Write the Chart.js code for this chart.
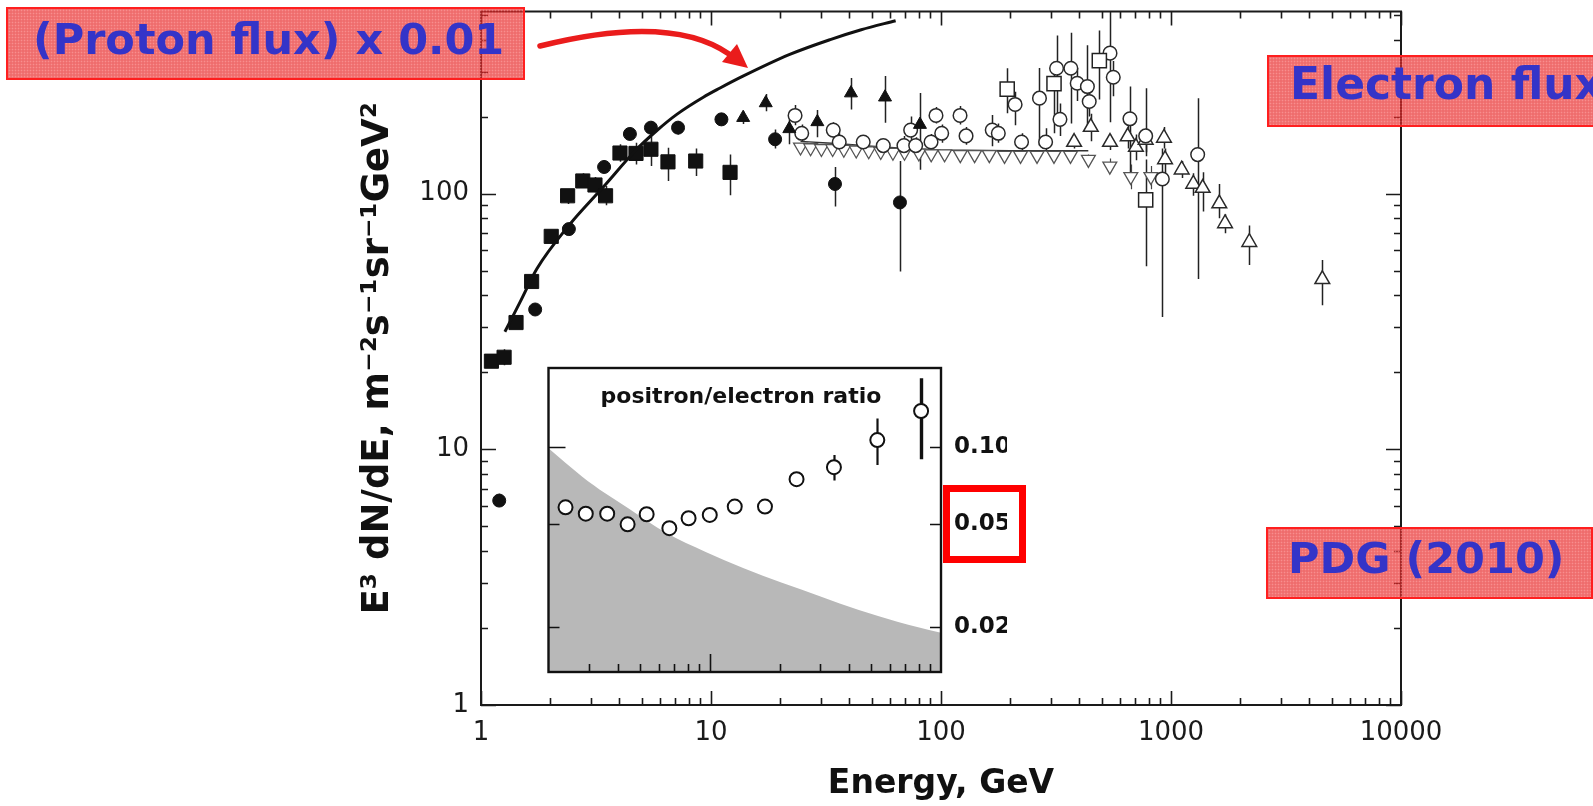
<!DOCTYPE html>
<html>
<head>
<meta charset="utf-8">
<title>Electron flux</title>
<script src="https://cdn.jsdelivr.net/npm/chart.js@4.4.0/dist/chart.umd.min.js"></script>
<style>
  html, body { margin: 0; padding: 0; background: #fff; }
  #wrap { position: relative; width: 1593px; height: 806px; overflow: hidden; }
  #wrap canvas { position: absolute; left: 0; top: 0; }
  #arrow { position: absolute; left: 0; top: 0; pointer-events: none; }
  .tag {
    position: absolute;
    box-sizing: border-box;
    border: 2px solid #ff1f1f;
    background-color: rgba(232, 40, 40, 0.68);
    background-image: radial-gradient(rgba(255, 170, 170, 0.55) 0.7px, transparent 1.1px);
    background-size: 3px 3px;
    color: #3434c8;
    font-family: "DejaVu Sans", sans-serif;
    font-weight: bold;
    font-size: 43px;
    white-space: nowrap;
    overflow: hidden;
  }
  #tagProton { left: 6px; top: 7px; width: 519px; height: 73px; line-height: 61px; padding-left: 25px; }
  #tagElectron { left: 1267px; top: 55px; width: 340px; height: 72px; line-height: 54px; padding-left: 21px; font-size: 44px; }
  #tagPdg { left: 1266px; top: 527px; width: 327px; height: 72px; line-height: 59px; padding-left: 20px; }
  #mark05 { position: absolute; left: 943px; top: 485px; width: 83px; height: 78px; box-sizing: border-box; border: 7px solid #f00; }
</style>
</head>
<body>
<div id="wrap">
  <canvas id="flux" width="1593" height="806"></canvas>
  <canvas id="ratio" width="1593" height="806"></canvas>
  <svg id="arrow" width="1593" height="806">
    <path d="M540 46 C600 31 680 20 729 54" fill="none" stroke="#ea1c1c" stroke-width="5.5" stroke-linecap="round"/>
    <polygon points="748,68 722,62 737,44" fill="#ea1c1c"/>
  </svg>
  <div class="tag" id="tagProton">(Proton flux) x 0.01</div>
  <div class="tag" id="tagElectron">Electron flux</div>
  <div class="tag" id="tagPdg">PDG (2010)</div>
  <div id="mark05"></div>
</div>
<script>
// axes
const xTickValues = [1, 10, 100, 1000, 10000];
const xTickLabels = ['1', '10', '100', '1000', '10000'];
const yTickValues = [1, 10, 100];
const yTickLabels = ['1', '10', '100'];
const ratioTickValues = [0.02, 0.05, 0.1];
const ratioTickLabels = ['0.02', '0.05', '0.10'];

// E^3 dN/dE, filled squares
const sqE  = [1.11, 1.26, 1.42, 1.66, 2.02, 2.38, 2.77, 3.13, 3.48, 4.02, 4.72, 5.48, 6.5, 8.58, 12.1];
const sqV  = [22.1, 22.9, 31.3, 45.3, 68, 98, 112, 108, 98, 144, 143.5, 149, 133, 134, 121];
const sqLo = [21, 21.3, 29.5, 43, 64, 91, 105, 101, 90, 133, 130, 128, 112, 117, 98.5];
const sqHi = [23.3, 24.6, 33.2, 48, 72, 104, 120, 116, 107, 156, 158, 167, 151, 150, 142];

// filled circles
const dotE  = [1.2, 1.72, 2.41, 3.43, 4.44, 5.48, 7.19, 11.1, 19.0, 34.6, 66.3];
const dotV  = [6.3, 35.2, 72.6, 127, 171, 181, 181, 195, 163, 109, 92.3];
const dotLo = [6.0, 33.5, 69, 120, 162, 172, 170, 184, 150, 89, 49.6];
const dotHi = [6.7, 37, 76, 135, 180, 192, 192, 205, 178, 127, 134];

// filled triangles
const triE  = [13.8, 17.3, 21.9, 29.0, 40.6, 57.1, 81];
const triV  = [198, 226, 179, 190.6, 247, 238, 186];
const triLo = [187, 210, 156, 166, 213, 189, 124];
const triHi = [210, 245, 203, 212, 283, 288, 247];

// open circles
const ringE  = [23.2, 24.8, 34.0, 36.1, 45.9, 56.1, 69.0, 73.8, 77.6, 90.5, 95.1, 100.7, 121, 128.5, 167, 177.5,
                210, 224, 268, 285, 318, 329, 367, 391, 433, 441, 543, 561, 663, 776, 917, 1306];
const ringV  = [202, 172, 177, 159, 159, 154, 154, 177, 154, 159, 202, 172, 202, 168, 177, 172,
                223, 159, 236, 159, 309, 195, 309, 270, 262, 229, 354, 285, 196, 168, 114, 142];
const ringLo = [185, 160, 165, 148, 150, 145, 140, 150, 143, 148, 188, 158, 186, 155, 153, 158,
                185, 146, 154, 146, 195, 168, 188, 230, 178, 200, 190, 240, 113, 140, 32.9, 46.3];
const ringHi = [222, 186, 190, 172, 168, 163, 168, 200, 166, 171, 218, 186, 220, 182, 203, 188,
                250, 172, 310, 180, 415, 225, 425, 310, 380, 260, 515, 330, 262, 258, 150, 236];

// open squares
const boxE  = [194, 310, 488, 776];
const boxV  = [256, 269, 331, 94.5];
const boxLo = [206, 172, 233, 52];
const boxHi = [309, 297, 434, 136];

// open up-triangles
const hessE  = [379, 448, 543, 648, 704, 776, 932, 942, 1113, 1250, 1373, 1622, 1718, 2190, 4549];
const hessV  = [159, 182, 159, 167, 152, 162, 165, 136, 124, 109, 105, 91.4, 76.4, 64.5, 46.2];
const hessLo = [150, 160, 148, 150, 135, 145, 150, 120, 115, 98, 85, 80, 70, 52.5, 36.6];
const hessHi = [168, 205, 170, 185, 170, 180, 182, 150, 134, 120, 121, 109, 83, 75, 55];

// open down-triangles
const fermiE  = [24.5, 27.1, 30.2, 33.8, 37.8, 42.8, 48.5, 54.7, 61.8, 69.4, 80.1, 90.7, 103.7,
                 121.3, 140, 162.2, 188.9, 221.7, 261.5, 309.9, 365.6, 437.4, 542, 668.7, 817.7];
const fermiV  = [152, 151, 150, 150, 149, 148, 147, 146, 145, 145, 144, 143, 143,
                 142, 142, 142, 141, 141, 141, 141, 141, 136, 128, 116.5, 116.5];
const fermiLo = [null, null, null, null, 141, null, null, null, null, null, null, null, null,
                 null, null, null, null, null, null, null, null, 130, 120, 104, 104];
const fermiHi = [null, null, null, null, 157, null, null, null, null, null, null, null, null,
                 null, null, null, null, null, null, null, null, 142, 137, 130, 128];
const bandE = [24.5, 35, 50, 70, 100, 200, 437];
const bandV = [160, 157, 153, 150, 148, 147, 147];

// proton flux x 0.01
const protonE = [1.27, 1.48, 1.75, 2.41, 3.4, 4.72, 5.8, 7.1, 9.26, 10.9, 13.7, 22, 33, 45, 63.5];
const protonV = [28.8, 37.7, 50.8, 75, 106, 148, 176, 204, 238, 258, 287, 350, 400, 437, 474];

// positron / electron ratio
const ratioE  = [2.37, 2.9, 3.59, 4.4, 5.32, 6.67, 8.08, 9.98, 12.8, 17.3, 23.7, 34.4, 53, 82];
const ratioV  = [0.0582, 0.055, 0.055, 0.05, 0.0547, 0.0483, 0.0528, 0.0544, 0.0586, 0.0586, 0.0749, 0.0834, 0.1064, 0.138];
const ratioLo = [null, null, null, null, null, null, null, null, null, null, null, 0.074, 0.085, 0.0896];
const ratioHi = [null, null, null, null, null, null, null, null, null, null, null, 0.093, 0.129, 0.185];

// secondary production band (grey)
const shadeE = [2, 2.8, 3.52, 4.43, 6.5, 9.53, 14.0, 20.5, 30.1, 44.1, 64.7, 100];
const shadeV = [0.0988, 0.0766, 0.066, 0.0577, 0.0461, 0.0391, 0.0337, 0.0296, 0.0262, 0.0232, 0.0209, 0.0189];

const pts = (e, v, lo, hi) => e.map((x, i) => ({
  x, y: v[i],
  lo: lo ? lo[i] : null,
  hi: hi ? hi[i] : null
}));

// keep the plot box where the layout padding puts it
const noLabelPadding = s => { s.paddingTop = 0; s.paddingBottom = 0; s.paddingLeft = 0; s.paddingRight = 0; };

// vertical error bars, drawn under the markers
const errorBars = {
  id: 'errorBars',
  beforeDatasetsDraw(chart) {
    const { ctx, chartArea: a, scales: { x, y } } = chart;
    ctx.save();
    ctx.beginPath();
    ctx.rect(a.left, a.top, a.right - a.left, a.bottom - a.top);
    ctx.clip();
    chart.data.datasets.forEach(ds => {
      if (!ds.errorBars) return;
      ctx.strokeStyle = ds.errorColor || '#222';
      ds.data.forEach((p, i) => {
        if (p.lo == null || p.hi == null) return;
        const px = Math.round(x.getPixelForValue(p.x)) + 0.5;
        ctx.lineWidth = (ds.errorWidths && ds.errorWidths[i]) || ds.errorWidth || 1.5;
        ctx.beginPath();
        ctx.moveTo(px, y.getPixelForValue(p.lo));
        ctx.lineTo(px, y.getPixelForValue(p.hi));
        ctx.stroke();
      });
    });
    ctx.restore();
  }
};

function logSteps(min, max) {
  const out = [];
  for (let e = Math.floor(Math.log10(min)); e <= Math.ceil(Math.log10(max)); e++) {
    for (let k = 1; k <= 9; k++) {
      const v = k * Math.pow(10, e);
      if (v >= min * 0.999 && v <= max * 1.001) out.push({ v, major: k === 1 });
    }
  }
  return out;
}

// frame and inward ticks on all four sides of the flux plot
const fluxFrame = {
  id: 'fluxFrame',
  afterDatasetsDraw(chart) {
    const { ctx, chartArea: a, scales: { x, y } } = chart;
    ctx.save();
    ctx.strokeStyle = '#1a1a1a';
    ctx.lineWidth = 1.6;
    logSteps(x.min, x.max).forEach(t => {
      const px = Math.round(x.getPixelForValue(t.v)) + 0.5;
      const len = t.major ? 14 : 7;
      ctx.beginPath();
      ctx.moveTo(px, a.bottom); ctx.lineTo(px, a.bottom - len);
      ctx.moveTo(px, a.top); ctx.lineTo(px, a.top + len);
      ctx.stroke();
    });
    logSteps(y.min, y.max).forEach(t => {
      const py = Math.round(y.getPixelForValue(t.v)) + 0.5;
      const len = t.major ? 15 : 7;
      ctx.beginPath();
      ctx.moveTo(a.left, py); ctx.lineTo(a.left + len, py);
      ctx.moveTo(a.right, py); ctx.lineTo(a.right - len, py);
      ctx.stroke();
    });
    ctx.lineWidth = 2;
    ctx.strokeRect(a.left, a.top, a.right - a.left, a.bottom - a.top);
    ctx.restore();
  }
};

new Chart(document.getElementById('flux'), {
  type: 'scatter',
  data: {
    datasets: [
      {
        data: pts(protonE, protonV),
        showLine: true, pointRadius: 0, borderColor: '#111', borderWidth: 3,
        cubicInterpolationMode: 'monotone'
      },
      {
        data: pts(sqE, sqV, sqLo, sqHi), errorBars: true,
        pointStyle: 'rect', pointRadius: 10, backgroundColor: '#111', borderColor: '#111', borderWidth: 1
      },
      {
        data: pts(dotE, dotV, dotLo, dotHi), errorBars: true,
        pointStyle: 'circle', pointRadius: 6.5, backgroundColor: '#111', borderColor: '#111', borderWidth: 1
      },
      {
        data: pts(triE, triV, triLo, triHi), errorBars: true,
        pointStyle: 'triangle', pointRadius: 7.5, backgroundColor: '#111', borderColor: '#111', borderWidth: 1
      },
      {
        data: pts(boxE, boxV, boxLo, boxHi), errorBars: true,
        pointStyle: 'rect', pointRadius: 10, backgroundColor: '#fff', borderColor: '#222', borderWidth: 1.5
      },
      {
        data: pts(ringE, ringV, ringLo, ringHi), errorBars: true,
        pointStyle: 'circle', pointRadius: 6.8, backgroundColor: '#fff', borderColor: '#2a2a2a', borderWidth: 1.5
      },
      {
        data: pts(hessE, hessV, hessLo, hessHi), errorBars: true,
        pointStyle: 'triangle', pointRadius: 8.5, backgroundColor: '#fff', borderColor: '#2a2a2a', borderWidth: 1.5
      },
      {
        data: pts(fermiE, fermiV, fermiLo, fermiHi), errorBars: true, errorColor: '#444', errorWidth: 1.2,
        pointStyle: 'triangle', rotation: 180, pointRadius: 8, backgroundColor: '#fff', borderColor: '#555', borderWidth: 1.3
      },
      {
        data: pts(bandE, bandV),
        showLine: true, pointRadius: 0, borderColor: '#333', borderWidth: 1.4
      }
    ]
  },
  options: {
    responsive: false,
    animation: false,
    devicePixelRatio: 1,
    events: [],
    layout: { padding: { left: 0, top: 8, right: 192, bottom: 0 } },
    plugins: { legend: { display: false }, tooltip: { enabled: false } },
    scales: {
      x: {
        type: 'logarithmic', min: 1, max: 10000, position: 'bottom',
        afterBuildTicks: s => { s.ticks = xTickValues.map(v => ({ value: v })); },
        afterFit: s => { s.height = 101; noLabelPadding(s); },
        grid: { display: false, drawTicks: false },
        border: { display: false },
        ticks: {
          autoSkip: false, maxRotation: 0, padding: 13, color: '#1a1a1a',
          font: { family: 'DejaVu Sans', size: 26 },
          callback: (v, i) => xTickLabels[i]
        },
        title: {
          display: true, text: 'Energy, GeV', color: '#111',
          font: { family: 'DejaVu Sans', size: 33, weight: 'bold' },
          padding: { top: 0, bottom: 2 }
        }
      },
      y: {
        type: 'logarithmic', min: 1, max: 515, position: 'left',
        afterBuildTicks: s => { s.ticks = yTickValues.map(v => ({ value: v })); },
        afterFit: s => { s.width = 481; noLabelPadding(s); },
        grid: { display: false, drawTicks: false },
        border: { display: false },
        ticks: {
          autoSkip: false, padding: 12, color: '#1a1a1a',
          font: { family: 'DejaVu Sans', size: 26 },
          callback: (v, i) => yTickLabels[i]
        },
        title: {
          display: true, text: 'E³ dN/dE, m⁻²s⁻¹sr⁻¹GeV²', color: '#111',
          font: { family: 'DejaVu Sans', size: 37, weight: 'bold' },
          padding: { top: 356, bottom: 0 }
        }
      }
    }
  },
  plugins: [errorBars, fluxFrame]
});

// inset: white box, ticks, frame and caption
const ratioFrame = {
  id: 'ratioFrame',
  beforeDraw(chart) {
    const { ctx, chartArea: a } = chart;
    ctx.save();
    ctx.fillStyle = '#fff';
    ctx.fillRect(a.left, a.top, a.right - a.left, a.bottom - a.top);
    ctx.restore();
  },
  afterDatasetsDraw(chart) {
    const { ctx, chartArea: a, scales: { x, y } } = chart;
    ctx.save();
    ctx.strokeStyle = '#111';
    ctx.lineWidth = 1.6;
    logSteps(x.min, x.max).forEach(t => {
      if (t.v <= x.min || t.v >= x.max) return;
      const px = Math.round(x.getPixelForValue(t.v)) + 0.5;
      ctx.beginPath();
      ctx.moveTo(px, a.bottom); ctx.lineTo(px, a.bottom - (t.major ? 18 : 8));
      ctx.stroke();
    });
    ratioTickValues.forEach(v => {
      const py = Math.round(y.getPixelForValue(v)) + 0.5;
      ctx.beginPath();
      ctx.moveTo(a.left, py); ctx.lineTo(a.left + (v === 0.1 ? 17 : 11), py);
      ctx.moveTo(a.right, py); ctx.lineTo(a.right - 11, py);
      ctx.stroke();
    });
    ctx.lineWidth = 2.4;
    ctx.strokeRect(a.left, a.top, a.right - a.left, a.bottom - a.top);
    ctx.fillStyle = '#111';
    ctx.font = 'bold 22px "DejaVu Sans"';
    ctx.textAlign = 'center';
    ctx.textBaseline = 'alphabetic';
    ctx.fillText('positron/electron ratio', 741, 403);
    ctx.restore();
  }
};

new Chart(document.getElementById('ratio'), {
  type: 'scatter',
  data: {
    datasets: [
      {
        data: pts(ratioE, ratioV, ratioLo, ratioHi), errorBars: true, errorColor: '#111',
        errorWidths: [2, 2, 2, 2, 2, 2, 2, 2, 2, 2, 2, 2.2, 2.2, 3.4],
        pointStyle: 'circle', pointRadius: 7, backgroundColor: '#fff', borderColor: '#111', borderWidth: 2
      },
      {
        data: pts(shadeE, shadeV),
        showLine: true, pointRadius: 0, borderWidth: 0, borderColor: 'rgba(0,0,0,0)',
        backgroundColor: '#b8b8b8', fill: 'start', cubicInterpolationMode: 'monotone'
      }
    ]
  },
  options: {
    responsive: false,
    animation: false,
    devicePixelRatio: 1,
    events: [],
    layout: { padding: { left: 548.5, top: 368, right: 586, bottom: 134 } },
    plugins: { legend: { display: false }, tooltip: { enabled: false } },
    scales: {
      x: { type: 'logarithmic', min: 2, max: 100, display: false },
      y: {
        type: 'logarithmic', min: 0.01331, max: 0.2029, position: 'right',
        afterBuildTicks: s => { s.ticks = ratioTickValues.map(v => ({ value: v })); },
        afterFit: s => { s.width = 66; noLabelPadding(s); },
        grid: { display: false, drawTicks: false },
        border: { display: false },
        ticks: {
          autoSkip: false, padding: 13, color: '#111',
          font: { family: 'DejaVu Sans', size: 23, weight: 'bold' },
          callback: (v, i) => ratioTickLabels[i]
        }
      }
    }
  },
  plugins: [errorBars, ratioFrame]
});
</script>
</body>
</html>
